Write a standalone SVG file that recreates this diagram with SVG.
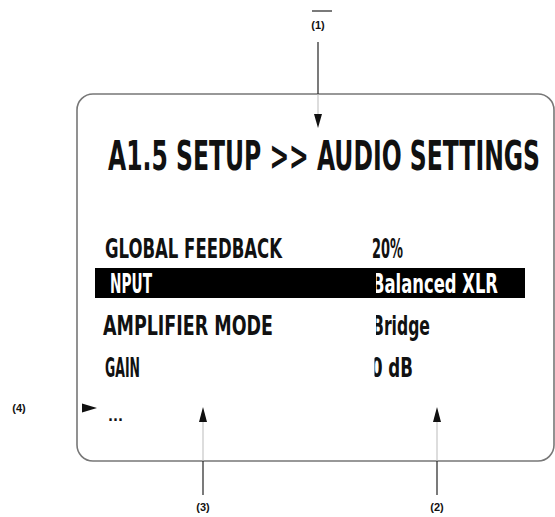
<svg xmlns="http://www.w3.org/2000/svg" width="555" height="517" viewBox="0 0 555 517">
<style>
.t{font-family:"DejaVu Sans Condensed","Liberation Sans",sans-serif;font-weight:bold;fill:#111}
.r{font-size:20px}
.w{fill:#fff}
.lbl{font-family:"Liberation Sans",sans-serif;font-weight:bold;font-size:11px;fill:#111;text-anchor:middle}
.out{stroke:#222;stroke-width:1.2;fill:none}
.in{stroke:#bbb;stroke-width:1;fill:none}
.ah{fill:#111}
</style>
<defs>
<clipPath id="cInput"><rect x="110" y="260" width="100" height="45"/></clipPath>
<clipPath id="cVal"><rect x="376" y="260" width="170" height="130"/></clipPath>
<clipPath id="cGain"><rect x="374.5" y="350" width="60" height="40"/></clipPath>
</defs>
<rect width="555" height="517" fill="#fff"/>
<g id="screen">
<rect x="77" y="94" width="477" height="367" rx="16" ry="16" fill="#fff" stroke="#777" stroke-width="1.6"/>
<text class="t" transform="scale(1,1.54)" x="108" y="110.4" font-size="26" textLength="432" lengthAdjust="spacingAndGlyphs">A1.5 SETUP &gt;&gt; AUDIO SETTINGS</text>
</g>
<g id="row-global-feedback">
<text class="t r" transform="scale(1,1.35)" x="105" y="191.1" textLength="177" lengthAdjust="spacingAndGlyphs">GLOBAL FEEDBACK</text>
<text class="t r" transform="scale(1,1.35)" x="372" y="191.1" textLength="31" lengthAdjust="spacingAndGlyphs">20%</text>
</g>
<g id="row-input">
<rect x="95" y="268" width="430" height="30" fill="#000"/>
<g clip-path="url(#cInput)"><text class="t r w" transform="scale(1,1.35)" x="105" y="217.0" textLength="47" lengthAdjust="spacingAndGlyphs">INPUT</text></g>
<g clip-path="url(#cVal)"><text class="t r w" transform="scale(1,1.35)" x="372" y="217.0" textLength="126" lengthAdjust="spacingAndGlyphs">Balanced XLR</text></g>
</g>
<g id="row-amplifier-mode">
<text class="t r" transform="scale(1,1.35)" x="103" y="248.1" textLength="170" lengthAdjust="spacingAndGlyphs">AMPLIFIER MODE</text>
<g clip-path="url(#cVal)"><text class="t r" transform="scale(1,1.35)" x="372" y="248.1" textLength="58" lengthAdjust="spacingAndGlyphs">Bridge</text></g>
</g>
<g id="row-gain">
<text class="t r" transform="scale(1,1.35)" x="105" y="279.3" textLength="35" lengthAdjust="spacingAndGlyphs">GAIN</text>
<g clip-path="url(#cGain)"><text class="t r" transform="scale(1,1.35)" x="371" y="279.3" textLength="42" lengthAdjust="spacingAndGlyphs">0 dB</text></g>
</g>
<g id="row-more">
<text class="t" x="108" y="421" font-size="14" textLength="15" lengthAdjust="spacingAndGlyphs">...</text>
</g>
<g id="callout-labels">
<line x1="312" y1="11" x2="332" y2="11" stroke="#222" stroke-width="1.2"/>
<text class="lbl" x="318" y="29">(1)</text>
<text class="lbl" x="437" y="511">(2)</text>
<text class="lbl" x="203" y="511">(3)</text>
<text class="lbl" x="19" y="412">(4)</text>
</g>
<g id="connectors">
<line class="out" x1="318" y1="42" x2="318" y2="94"/>
<line class="in" x1="318" y1="94" x2="318" y2="115"/>
<polygon class="ah" points="314,114 322,114 318,128"/>
<line class="out" x1="437" y1="495" x2="437" y2="461"/>
<line class="in" x1="437" y1="461" x2="437" y2="421"/>
<polygon class="ah" points="433,422 441,422 437,407"/>
<line class="out" x1="203" y1="495" x2="203" y2="461"/>
<line class="in" x1="203" y1="461" x2="203" y2="421"/>
<polygon class="ah" points="199,422 207,422 203,407"/>
<polygon class="ah" points="82,403.5 82,412.5 97,408"/>
</g>
</svg>
